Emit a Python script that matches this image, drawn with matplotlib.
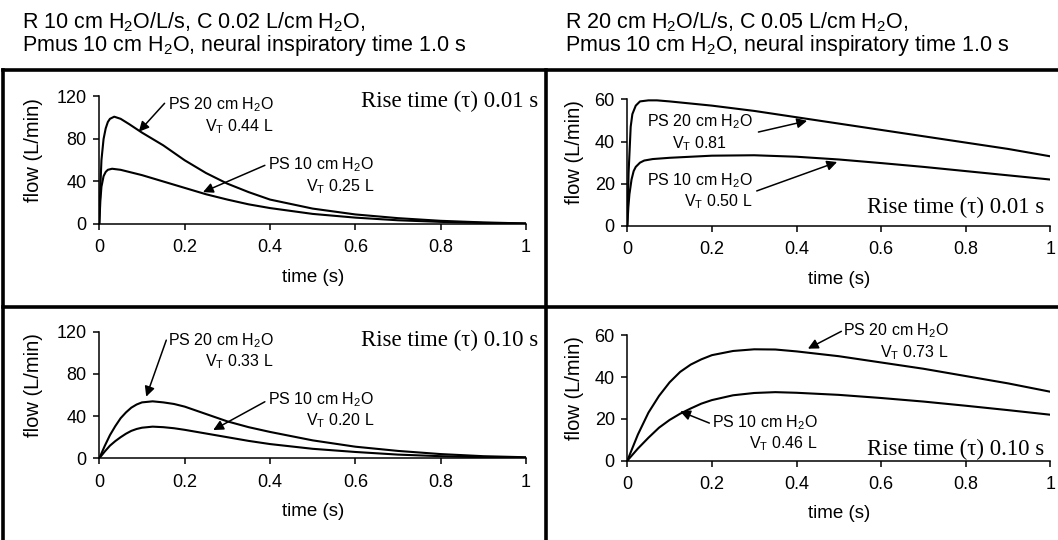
import matplotlib
matplotlib.use("Agg")
import matplotlib.pyplot as plt
from matplotlib.lines import Line2D

plt.rcParams["font.family"] = "Liberation Sans"
plt.rcParams["mathtext.fontset"] = "custom"
plt.rcParams["mathtext.rm"] = "Liberation Sans"
plt.rcParams["mathtext.default"] = "regular"

W, H = 1058, 540

# --- data (flow in L/min vs time in s) ---
t_tl = [0, 0.0025, 0.005, 0.01, 0.015, 0.02, 0.025, 0.035, 0.05, 0.07, 0.1, 0.15,
        0.2, 0.25, 0.3, 0.35, 0.4, 0.5, 0.6, 0.7, 0.8, 0.9, 1.0]
ps20_tl = [0, 35, 60, 80, 90, 96, 99, 101, 99, 94, 86, 74, 60, 48, 38, 30, 23,
           14.5, 9, 5.5, 3, 1.5, 0.5]
t_tl10 = [0, 0.0025, 0.005, 0.01, 0.015, 0.02, 0.03, 0.05, 0.07, 0.1, 0.15, 0.2,
          0.25, 0.3, 0.35, 0.4, 0.5, 0.6, 0.7, 0.8, 0.9, 1.0]
ps10_tl = [0, 22, 35, 45, 49, 51, 52, 51, 49, 46, 40, 34, 28, 23, 18.5, 15, 9.5,
           6, 3.5, 2, 1, 0.5]

t_tr = [0, 0.003, 0.008, 0.012, 0.02, 0.03, 0.05, 0.07, 0.1, 0.2, 0.3, 0.4, 0.5,
        0.6, 0.7, 0.8, 0.9, 1.0]
ps20_tr = [0, 25, 47, 53, 57, 59, 59.5, 59.5, 59, 57, 54.5, 51.5, 48.5, 45.5,
           42.5, 39.5, 36.5, 33]
t_tr10 = [0, 0.0025, 0.005, 0.01, 0.015, 0.02, 0.03, 0.04, 0.06, 0.1, 0.2, 0.3,
          0.4, 0.5, 0.6, 0.7, 0.8, 0.9, 1.0]
ps10_tr = [0, 9, 15, 22, 26, 28, 30, 31, 31.7, 32.3, 33.3, 33.5, 32.8, 31.5,
           29.8, 28, 26, 24, 22]

t_bl = [0, 0.0125, 0.025, 0.0375, 0.05, 0.0625, 0.075, 0.0875, 0.1, 0.125, 0.15,
        0.175, 0.2, 0.25, 0.3, 0.35, 0.4, 0.5, 0.6, 0.7, 0.8, 0.9, 1.0]
ps20_bl = [0, 11.5, 22, 30.5, 38, 43.5, 48, 51, 53, 54, 53, 51.5, 49, 42, 35,
           29.5, 25, 17, 11, 7, 4, 2, 1]
ps10_bl = [0, 6.3, 12, 16.3, 20, 23.3, 26, 27.8, 29, 30, 29.5, 28.5, 27, 23.5,
           20, 16.5, 13.5, 9, 6, 3.5, 2, 1, 0.5]

t_br = [0, 0.025, 0.05, 0.075, 0.1, 0.125, 0.15, 0.175, 0.2, 0.25, 0.3, 0.35,
        0.4, 0.5, 0.6, 0.7, 0.8, 0.9, 1.0]
ps20_br = [0, 12.5, 23, 31, 37.5, 42.5, 46, 48.5, 50.5, 52.5, 53.3, 53.2, 52.3,
           50, 47, 44, 40.5, 37, 33]
ps10_br = [0, 5.8, 11, 15.8, 19.5, 22.5, 25, 27.3, 29, 31.3, 32.4, 32.8, 32.5,
           31.5, 30, 28.3, 26.3, 24.2, 22]

x_ticks = [0, 0.2, 0.4, 0.6, 0.8, 1.0]
x_labels = ["0", "0.2", "0.4", "0.6", "0.8", "1"]
y_ticks_left = [0, 40, 80, 120]
y_ticks_right = [0, 20, 40, 60]

titles_left = ["R 10 cm H$_2$O/L/s, C 0.02 L/cm H$_2$O,",
               "Pmus 10 cm H$_2$O, neural inspiratory time 1.0 s"]
titles_right = ["R 20 cm H$_2$O/L/s, C 0.05 L/cm H$_2$O,",
                "Pmus 10 cm H$_2$O, neural inspiratory time 1.0 s"]


def px_rect(left, top, right, bottom):
    return [left / W, 1 - bottom / H, (right - left) / W, (bottom - top) / H]


fig = plt.figure(figsize=(W / 100, H / 100), dpi=100)

panels = [
    dict(rect=px_rect(99.3, 96.5, 526, 224),
         t20=t_tl, y20=ps20_tl, t10=t_tl10, y10=ps10_tl,
         yt=y_ticks_left, ylim=120, ylab_x=-0.155,
         notes=[("PS 20 cm H$_2$O\nV$_T$ 0.44 L", 0.161, 102, "right",
                 (0.153, 113.6), (0.0925, 86.8)),
                ("PS 10 cm H$_2$O\nV$_T$ 0.25 L", 0.396, 45.3, "right",
                 (0.388, 55.2), (0.243, 30))],
         rise=("Rise time (\u03c4) 0.01 s", 1.028, 115)),
    dict(rect=px_rect(627.3, 99.3, 1050.3, 226),
         t20=t_tr, y20=ps20_tr, t10=t_tr10, y10=ps10_tr,
         yt=y_ticks_right, ylim=60, ylab_x=-0.125,
         notes=[("PS 20 cm H$_2$O\nV$_T$ 0.81", 0.046, 44.1, "center",
                 (0.31, 44.5), (0.425, 49.8)),
                ("PS 10 cm H$_2$O\nV$_T$ 0.50 L", 0.046, 16.6, "right",
                 (0.306, 16.6), (0.496, 30.3))],
         rise=("Rise time (\u03c4) 0.01 s", 0.985, 9)),
    dict(rect=px_rect(99.3, 331.7, 526, 458.3),
         t20=t_bl, y20=ps20_bl, t10=t_bl, y10=ps10_bl,
         yt=y_ticks_left, ylim=120, ylab_x=-0.155,
         notes=[("PS 20 cm H$_2$O\nV$_T$ 0.33 L", 0.161, 101.7, "right",
                 (0.157, 112), (0.11, 58.4)),
                ("PS 10 cm H$_2$O\nV$_T$ 0.20 L", 0.396, 45.7, "right",
                 (0.388, 53.6), (0.267, 26.8))],
         rise=("Rise time (\u03c4) 0.10 s", 1.028, 112)),
    dict(rect=px_rect(627.3, 335.3, 1050.3, 460.7),
         t20=t_br, y20=ps20_br, t10=t_br, y10=ps10_br,
         yt=y_ticks_right, ylim=60, ylab_x=-0.125,
         notes=[("PS 20 cm H$_2$O\nV$_T$ 0.73 L", 0.51, 56.9, "right",
                 (0.506, 61.9), (0.427, 53.6)),
                ("PS 10 cm H$_2$O\nV$_T$ 0.46 L", 0.2, 13.1, "right",
                 (0.194, 18), (0.125, 23.6))],
         rise=("Rise time (\u03c4) 0.10 s", 0.985, 5.2)),
]

for p in panels:
    ax = fig.add_axes(p["rect"])
    ax.plot(p["t20"], p["y20"], color="black", lw=1.5, solid_joinstyle="round")
    ax.plot(p["t10"], p["y10"], color="black", lw=1.5, solid_joinstyle="round")
    ax.set_xlim(0, 1)
    ax.set_ylim(0, p["ylim"])
    ax.set_xticks(x_ticks)
    ax.set_xticklabels(x_labels)
    ax.set_yticks(p["yt"])
    for s in ("top", "right"):
        ax.spines[s].set_visible(False)
    for s in ("left", "bottom"):
        ax.spines[s].set_linewidth(1.1)
    ax.tick_params(direction="out", length=4, width=1.1, labelsize=13)
    ax.tick_params(axis="x", pad=7)
    ax.tick_params(axis="y", pad=5)
    ax.set_xlabel("time (s)", fontsize=13.5, va="center")
    ax.xaxis.set_label_coords(0.5, -0.42)
    ax.set_ylabel("flow (L/min)", fontsize=14.5, va="center")
    ax.yaxis.set_label_coords(p["ylab_x"], 0.58)

    for txt, x, y, al, tail, tip in p["notes"]:
        ax.text(x, y, txt, ha="left", va="center", multialignment=al,
                fontsize=11.5, linespacing=1.2)
        ax.annotate("", xy=tip, xytext=tail,
                    arrowprops=dict(arrowstyle="-|>", color="black", lw=1.1,
                                    mutation_scale=15, shrinkA=0, shrinkB=0))
    rt, rx, ry = p["rise"]
    ax.text(rx, ry, rt, ha="right", va="center", fontsize=16.5,
            family="Liberation Serif", clip_on=False)

# titles above each column
for i, line in enumerate(titles_left):
    fig.text(22 / W, 1 - (28 + 23 * i) / H, line, fontsize=15.5, va="baseline")
for i, line in enumerate(titles_right):
    fig.text(565 / W, 1 - (28 + 23 * i) / H, line, fontsize=15.5, va="baseline")

# frame lines of the panel grid
frame = dict(color="black", lw=2.6, transform=fig.transFigure)
fig.add_artist(Line2D([3 / W, 1], [1 - 70 / H] * 2, **frame))
fig.add_artist(Line2D([3 / W, 1], [1 - 307 / H] * 2, **frame))
fig.add_artist(Line2D([3 / W] * 2, [0, 1 - 70 / H], **frame))
fig.add_artist(Line2D([546 / W] * 2, [0, 1 - 70 / H], **frame))

fig.savefig("out.png", dpi=100, facecolor="white")
